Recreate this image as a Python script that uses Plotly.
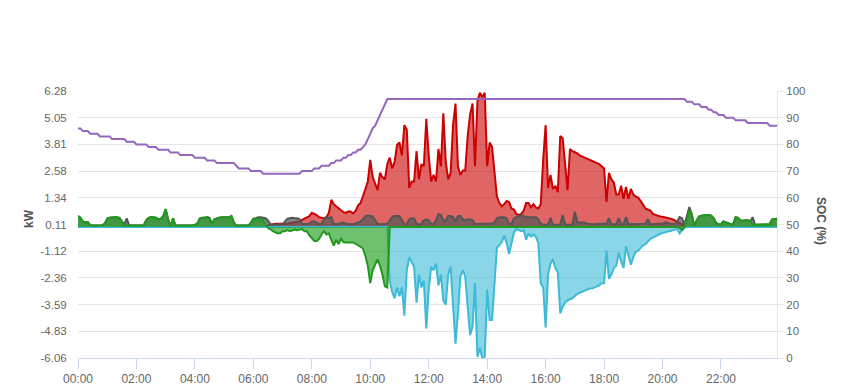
import pandas as pd
import plotly.graph_objects as go

# 5-minute samples, 00:00 .. 23:55
times = pd.date_range("2024-01-01 00:00", periods=288, freq="5min")

pv_kw = [
    0, 0, 0, 0, 0, 0, 0, 0, 0, 0, 0, 0,
    0, 0, 0, 0, 0, 0, 0, 0, 0, 0, 0, 0,
    0, 0, 0, 0, 0, 0, 0, 0, 0, 0, 0, 0,
    0, 0, 0, 0, 0, 0, 0, 0, 0, 0, 0, 0,
    0, 0, 0, 0, 0, 0, 0, 0, 0, 0, 0, 0,
    0, 0, 0, 0, 0, 0, 0, 0, 0, 0, 0, 0,
    0, 0, 0, 0, 0, 0, 0.05, 0.1, 0.12, 0.15, 0.15, 0.12,
    0.12, 0.15, 0.15, 0.18, 0.2, 0.2, 0.22, 0.25, 0.32, 0.38, 0.42, 0.5,
    0.65, 0.6, 0.55, 0.45, 0.42, 0.4, 0.45, 0.65, 1.25, 1.05, 0.95, 0.85,
    0.75, 0.68, 0.65, 0.72, 0.7, 0.62, 0.75, 1.0, 1.1, 1.4, 1.75, 2.1,
    3.1, 2.3, 2.0, 1.7, 2.5, 2.3, 2.2, 2.9, 3.2, 2.7, 3.0, 3.8,
    3.9, 3.3, 4.7, 4.5, 1.8, 2.1, 2.1, 3.5, 2.2, 2.9, 2.8, 5.0,
    3.3, 2.1, 2.4, 2.1, 3.6, 2.8, 5.25, 3.0, 2.2, 2.5, 4.7, 5.7,
    2.8, 2.4, 2.6, 2.6, 4.2, 5.2, 5.7, 2.8, 5.8, 6.2, 6.0, 6.2,
    2.8, 3.9, 3.7, 2.6, 1.4, 1.1, 0.95, 1.05, 1.2, 1.15, 0.85, 0.8,
    0.6, 0.55, 0.6, 0.75, 1.1, 1.1, 0.9, 1.05, 0.9, 0.85, 1.05, 3.1,
    4.7, 1.8, 2.4, 1.75, 1.9, 1.6, 4.2, 4.1, 2.7, 1.7, 3.6, 3.5,
    3.45, 3.4, 3.3, 3.25, 3.2, 3.15, 3.1, 3.05, 3.0, 2.95, 2.9, 2.8,
    2.7, 1.15, 2.5, 2.2, 2.05, 1.5, 1.5, 1.9, 1.3, 1.85, 1.3, 1.75,
    1.5, 1.4, 1.35, 1.2, 1.0, 0.85, 0.8, 0.75, 0.6, 0.55, 0.5, 0.48,
    0.47, 0.45, 0.42, 0.4, 0.36, 0.3, 0.25, 0.2, 0.12, 0.05, 0, 0,
    0, 0, 0, 0, 0, 0, 0, 0, 0, 0, 0, 0,
    0, 0, 0, 0, 0, 0, 0, 0, 0, 0, 0, 0,
    0, 0, 0, 0, 0, 0, 0, 0, 0, 0, 0, 0,
]

load_kw = [
    0.5, 0.42, 0.25, 0.2, 0.22, 0.08, 0.06, 0.06, 0.06, 0.06, 0.08, 0.15,
    0.38, 0.42, 0.45, 0.45, 0.45, 0.42, 0.25, 0.1, 0.4, 0.06, 0.06, 0.06,
    0.06, 0.06, 0.06, 0.08, 0.3, 0.42, 0.45, 0.45, 0.42, 0.35, 0.38, 0.5,
    0.82, 0.35, 0.05, 0.4, 0.06, 0.06, 0.06, 0.06, 0.06, 0.06, 0.06, 0.06,
    0.1, 0.15, 0.38, 0.42, 0.42, 0.45, 0.42, 0.15, 0.35, 0.4, 0.42, 0.45,
    0.45, 0.45, 0.45, 0.5, 0.2, 0.06, 0.06, 0.06, 0.06, 0.06, 0.06, 0.2,
    0.38, 0.4, 0.45, 0.45, 0.42, 0.4, 0.3, 0.12, 0.1, 0.1, 0.1, 0.12,
    0.12, 0.25, 0.38, 0.4, 0.42, 0.4, 0.4, 0.35, 0.15, 0.12, 0.12, 0.15,
    0.25, 0.25, 0.2, 0.12, 0.15, 0.35, 0.45, 0.4, 0.45, 0.15, 0.12, 0.15,
    0.15, 0.2, 0.15, 0.12, 0.12, 0.12, 0.15, 0.2, 0.25, 0.35, 0.5, 0.52,
    0.5, 0.48, 0.3, 0.15, 0.12, 0.12, 0.12, 0.15, 0.3, 0.45, 0.5, 0.5,
    0.5, 0.3, 0.12, 0.12, 0.35, 0.4, 0.4, 0.15, 0.1, 0.15, 0.3, 0.35,
    0.3, 0.15, 0.12, 0.3, 0.6, 0.55, 0.3, 0.3, 0.5, 0.5, 0.45, 0.25,
    0.5, 0.5, 0.35, 0.3, 0.35, 0.35, 0.3, 0.12, 0.15, 0.15, 0.15, 0.15,
    0.15, 0.15, 0.15, 0.2, 0.4, 0.45, 0.45, 0.45, 0.4, 0.12, 0.15, 0.4,
    0.45, 0.5, 0.55, 0.5, 0.45, 0.45, 0.45, 0.45, 0.45, 0.35, 0.15, 0.1,
    0.1, 0.1, 0.42, 0.1, 0.1, 0.1, 0.1, 0.55, 0.1, 0.1, 0.1, 0.1,
    0.7, 0.2, 0.2, 0.2, 0.2, 0.15, 0.12, 0.12, 0.12, 0.15, 0.15, 0.15,
    0.15, 0.15, 0.4, 0.12, 0.12, 0.12, 0.4, 0.12, 0.12, 0.45, 0.12, 0.12,
    0.15, 0.15, 0.15, 0.12, 0.12, 0.15, 0.35, 0.12, 0.12, 0.15, 0.15, 0.15,
    0.15, 0.2, 0.2, 0.15, 0.12, 0.12, 0.25, 0.45, 0.4, 0.1, 0.5, 0.92,
    0.6, 0.05, 0.3, 0.48, 0.52, 0.55, 0.55, 0.55, 0.52, 0.4, 0.18, 0.12,
    0.12, 0.25, 0.2, 0.15, 0.12, 0.12, 0.45, 0.42, 0.3, 0.28, 0.3, 0.32,
    0.25, 0.45, 0.1, 0.1, 0.1, 0.1, 0.1, 0.1, 0.12, 0.35, 0.38, 0.38,
]

grid_kw = [
    0, 0, 0, 0, 0, 0, 0, 0, 0, 0, 0, 0,
    0, 0, 0, 0, 0, 0, 0, 0, 0, 0, 0, 0,
    0, 0, 0, 0, 0, 0, 0, 0, 0, 0, 0, 0,
    0, 0, 0, 0, 0, 0, 0, 0, 0, 0, 0, 0,
    0, 0, 0, 0, 0, 0, 0, 0, 0, 0, 0, 0,
    0, 0, 0, 0, 0, 0, 0, 0, 0, 0, 0, 0,
    0, 0, 0, 0, 0, 0, 0, 0, 0, 0, 0, 0,
    0, 0, 0, 0, 0, 0, 0, 0, 0, 0, 0, 0,
    0, 0, 0, 0, 0, 0, 0, 0, 0, 0, 0, 0,
    0, 0, 0, 0, 0, 0, 0, 0, 0, 0, 0, 0,
    0, 0, 0, 0, 0, 0, 0, 0, -2.5, -3.0, -3.3, -2.8,
    -3.2, -2.8, -4.1, -2.0, -1.4, -1.65, -1.85, -3.5, -2.2, -2.8, -2.5, -4.7,
    -2.9, -1.85, -2.0, -1.7, -2.7, -2.2, -3.4, -3.6, -2.2, -1.85, -3.7, -5.4,
    -4.0, -2.3, -2.0, -2.3, -3.7, -5.0, -4.6, -2.6, -6.0, -5.6, -6.06, -6.0,
    -2.9, -4.3, -4.3, -2.4, -0.95, -0.85, -0.7, -0.4, -0.75, -1.25, -0.7, -0.25,
    -0.1, -0.15, -0.2, -0.15, -0.6, -0.3, -0.45, -0.35, -0.45, -0.75, -2.6, -2.8,
    -4.65, -2.2, -1.7, -1.5, -1.9, -2.1, -4.0, -3.7, -3.5, -3.4, -3.35, -3.3,
    -3.2, -3.1, -3.05, -3.0, -2.95, -2.9, -2.85, -2.85, -2.8, -2.75, -2.7, -2.6,
    -2.6, -1.1, -2.4, -2.2, -1.9, -1.8, -1.2, -1.6, -1.9, -0.9, -1.4, -1.75,
    -1.4, -1.15, -1.1, -0.95, -0.85, -0.8, -0.65, -0.55, -0.5, -0.42, -0.38, -0.32,
    -0.28, -0.25, -0.22, -0.2, -0.15, -0.12, -0.1, -0.3, -0.15, -0.05, 0, 0,
    0, 0, 0, 0, 0, 0, 0, 0, 0, 0, 0, 0,
    0, 0, 0, 0, 0, 0, 0, 0, 0, 0, 0, 0,
    0, 0, 0, 0, 0, 0, 0, 0, 0, 0, 0, 0,
]

battery_kw = [
    0.5, 0.42, 0.25, 0.2, 0.22, 0.08, 0.06, 0.06, 0.06, 0.06, 0.08, 0.15,
    0.38, 0.42, 0.45, 0.45, 0.45, 0.42, 0.25, 0.08, 0.06, 0.06, 0.06, 0.06,
    0.06, 0.06, 0.06, 0.08, 0.3, 0.42, 0.45, 0.45, 0.42, 0.35, 0.38, 0.5,
    0.82, 0.35, 0.0, 0.4, 0.06, 0.06, 0.06, 0.06, 0.06, 0.06, 0.06, 0.06,
    0.1, 0.15, 0.38, 0.42, 0.42, 0.45, 0.35, 0.15, 0.35, 0.4, 0.42, 0.45,
    0.45, 0.45, 0.45, 0.5, 0.2, 0.06, 0.06, 0.06, 0.06, 0.06, 0.06, 0.2,
    0.35, 0.38, 0.38, 0.38, 0.3, 0.1, -0.05, -0.1, -0.2, -0.25, -0.3, -0.3,
    -0.2, -0.2, -0.15, -0.2, -0.15, -0.12, -0.15, -0.12, -0.1, -0.2, -0.2, -0.4,
    -0.55, -0.65, -0.65, -0.55, -0.35, -0.2, -0.35, -0.3, -0.6, -0.86, -0.6, -0.8,
    -0.55, -0.7, -0.72, -0.72, -0.75, -0.72, -0.78, -0.85, -0.95, -1.0, -1.35, -1.8,
    -2.6, -2.0, -1.75, -1.5, -1.8, -2.2, -2.75, -2.8, 0, 0, 0, 0,
    0, 0, 0, 0, 0, 0, 0, 0, 0, 0, 0, 0,
    0, 0, 0, 0, 0, 0, 0, 0, 0, 0, 0, 0,
    0, 0, 0, 0, 0, 0, 0, 0, 0, 0, 0, 0,
    0, 0, 0, 0, 0, 0, 0, 0, 0, 0, 0, 0,
    0, 0, 0, 0, 0, 0, 0, 0, 0, 0, 0, 0,
    0, 0, 0, 0, 0, 0, 0, 0, 0, 0, 0, 0,
    0, 0, 0, 0, 0, 0, 0, 0, 0, 0, 0, 0,
    0, 0, 0, 0, 0, 0, 0, 0, 0, 0, 0, 0,
    0, 0, 0, 0, 0, 0, 0, 0, 0, 0, 0, 0,
    0, 0, 0, 0, 0, 0, 0, -0.05, -0.15, 0.0, 0.3, 0.75,
    0.6, 0.05, 0.3, 0.48, 0.52, 0.55, 0.55, 0.55, 0.52, 0.4, 0.18, 0.12,
    0.12, 0.25, 0.2, 0.15, 0.12, 0.12, 0.45, 0.42, 0.3, 0.28, 0.3, 0.32,
    0.25, 0.12, 0.1, 0.1, 0.1, 0.1, 0.1, 0.1, 0.12, 0.35, 0.38, 0.38,
]

soc_pct = [
    86, 86, 85, 85, 85, 84, 84, 84, 84, 83, 83, 83,
    83, 83, 82, 82, 82, 82, 82, 82, 81, 81, 81, 81,
    80, 80, 80, 80, 80, 79, 79, 79, 79, 78, 78, 78,
    78, 78, 77, 77, 77, 77, 76, 76, 76, 76, 76, 76,
    75, 75, 75, 75, 75, 74, 74, 74, 74, 73, 73, 73,
    73, 73, 73, 73, 73, 72, 71, 71, 71, 71, 71, 70,
    70, 70, 70, 70, 69, 69, 69, 69, 69, 69, 69, 69,
    69, 69, 69, 69, 69, 69, 69, 69, 70, 70, 70, 70,
    70, 71, 71, 71, 72, 72, 72, 72, 73, 73, 74, 74,
    74, 75, 75, 76, 76, 77, 77, 78, 78, 79, 80, 82,
    84, 86, 87, 89, 91, 93, 95, 97, 97, 97, 97, 97,
    97, 97, 97, 97, 97, 97, 97, 97, 97, 97, 97, 97,
    97, 97, 97, 97, 97, 97, 97, 97, 97, 97, 97, 97,
    97, 97, 97, 97, 97, 97, 97, 97, 97, 97, 97, 97,
    97, 97, 97, 97, 97, 97, 97, 97, 97, 97, 97, 97,
    97, 97, 97, 97, 97, 97, 97, 97, 97, 97, 97, 97,
    97, 97, 97, 97, 97, 97, 97, 97, 97, 97, 97, 97,
    97, 97, 97, 97, 97, 97, 97, 97, 97, 97, 97, 97,
    97, 97, 97, 97, 97, 97, 97, 97, 97, 97, 97, 97,
    97, 97, 97, 97, 97, 97, 97, 97, 97, 97, 97, 97,
    97, 97, 97, 97, 97, 97, 97, 97, 97, 97, 96, 96,
    96, 95, 95, 95, 94, 94, 94, 93, 93, 92, 92, 91,
    91, 91, 90, 90, 90, 90, 89, 89, 89, 89, 89, 88,
    88, 88, 88, 88, 88, 88, 88, 88, 87, 87, 87, 87,
]

kw_tick_labels = ["-6.06", "-4.83", "-3.59", "-2.36", "-1.12", "0.11",
                  "1.34", "2.58", "3.81", "5.05", "6.28"]
kw_tick_vals = [float(s) for s in kw_tick_labels]

FONT = "Liberation Sans, Arial, sans-serif"
LBL = "#666666"

fig = go.Figure()

def area(y, line, fill, width=2):
    fig.add_trace(go.Scatter(
        x=times, y=y, mode="lines", fill="tozeroy",
        line=dict(color=line, width=width), fillcolor=fill,
        hoverinfo="skip", showlegend=False))

area(pv_kw, "#cc0000", "rgba(204,0,0,0.6)")
area(load_kw, "#555555", "rgba(85,85,85,0.7)")
area(grid_kw, "#3cbad6", "rgba(60,186,214,0.6)")
area(battery_kw, "#1f9a1f", "rgba(34,160,34,0.65)")

fig.add_trace(go.Scatter(
    x=times, y=soc_pct, mode="lines", yaxis="y2",
    line=dict(color="#9467bd", width=2), hoverinfo="skip", showlegend=False))

fig.update_layout(
    width=849, height=390,
    margin=dict(l=78, r=72, t=91, b=32),
    paper_bgcolor="white", plot_bgcolor="white",
    font=dict(family=FONT, size=12, color=LBL),
    hovermode=False,
    xaxis=dict(
        type="date", automargin=False,
        range=[times[0], times[-1]],
        tickformat="%H:%M", dtick=2 * 3600 * 1000, tick0=times[0],
        showgrid=False, zeroline=False,
        showline=True, linecolor="#ccd6eb", linewidth=1,
        ticks="outside", ticklen=10, tickcolor="#ccd6eb",
        tickfont=dict(size=12, color=LBL),
    ),
    yaxis=dict(
        automargin=False,
        range=[kw_tick_vals[0], kw_tick_vals[-1]],
        tickvals=kw_tick_vals, ticktext=kw_tick_labels,
        showgrid=True, gridcolor="#e6e6e6", gridwidth=1,
        zeroline=False, showline=False,
        ticks="outside", ticklen=8, tickcolor="rgba(0,0,0,0)",
        tickfont=dict(size=11.5, color=LBL),
    ),
    yaxis2=dict(
        automargin=False,
        overlaying="y", side="right", range=[0, 100], dtick=10, tick0=0,
        showgrid=False, zeroline=False,
        showline=True, linecolor="#e6e6e6", linewidth=1,
        ticks="outside", ticklen=6, tickcolor="#e6e6e6",
        tickfont=dict(size=11.5, color=LBL),
    ),
    annotations=[
        dict(text="<b>kW</b>", xref="paper", yref="paper",
             x=(29 - 78) / 699, y=(358 - 219) / 267, textangle=-90,
             showarrow=False, xanchor="center", yanchor="middle",
             font=dict(size=12, color="#555555", family=FONT)),
        dict(text="<b>SOC (%)</b>", xref="paper", yref="paper",
             x=(821 - 78) / 699, y=(358 - 221) / 267, textangle=90,
             showarrow=False, xanchor="center", yanchor="middle",
             font=dict(size=12, color="#555555", family=FONT)),
    ],
)

fig.write_html("out.html")
